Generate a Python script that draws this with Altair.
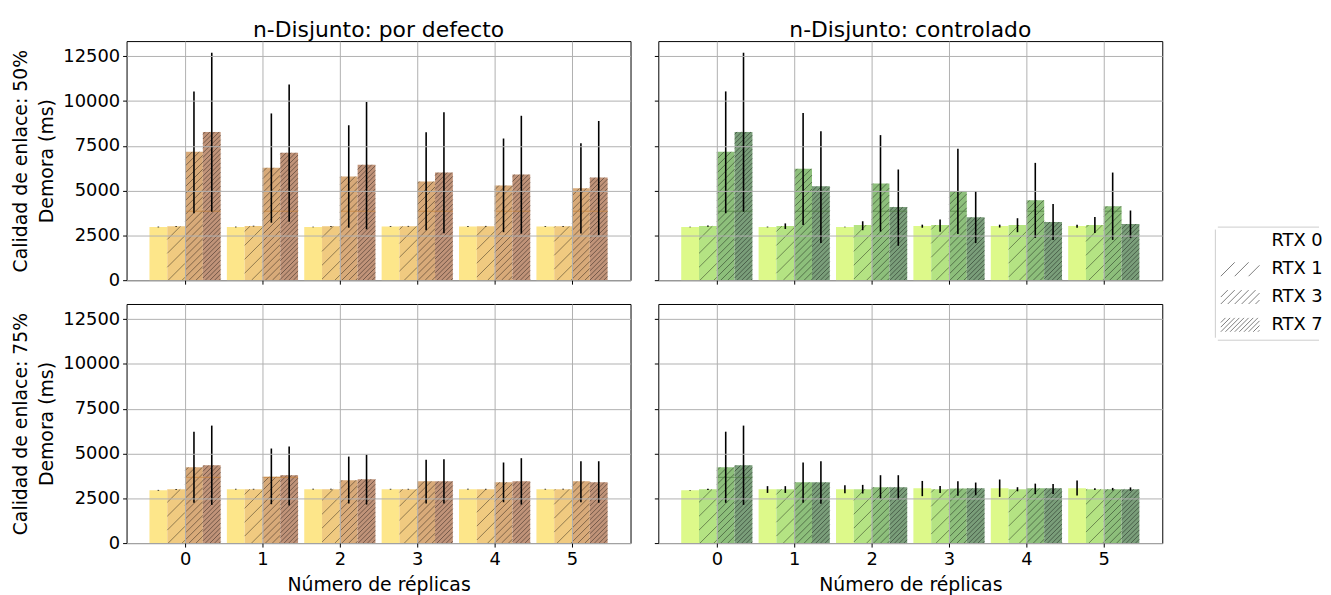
import altair as alt
import numpy as np
import pandas as pd

# ---------------- data ----------------
replicas = [0, 1, 2, 3, 4, 5]
rtx_levels = ["RTX 0", "RTX 1", "RTX 3", "RTX 7"]
y_ticks = [0, 2500, 5000, 7500, 10000, 12500]
col_titles = ["n-Disjunto: por defecto", "n-Disjunto: controlado"]
row_titles = [["Calidad de enlace: 50%", "Demora (ms)"],
              ["Calidad de enlace: 75%", "Demora (ms)"]]
x_title = "Número de réplicas"

# n-Disjunto por defecto, calidad 50%
def50_mean = {
    "RTX 0": [2970, 2970, 2970, 3000, 3000, 3000],
    "RTX 1": [3010, 3020, 3010, 3010, 3010, 3010],
    "RTX 3": [7170, 6280, 5790, 5510, 5290, 5130],
    "RTX 7": [8280, 7120, 6450, 6010, 5900, 5730],
}
def50_lo = {
    "RTX 0": [2950, 2950, 2950, 2980, 2980, 2980],
    "RTX 1": [2990, 3000, 2990, 2990, 2990, 2990],
    "RTX 3": [3740, 3210, 2930, 2790, 2680, 2600],
    "RTX 7": [3820, 3260, 2840, 2620, 2600, 2510],
}
def50_hi = {
    "RTX 0": [2990, 2990, 2990, 3020, 3020, 3020],
    "RTX 1": [3030, 3040, 3030, 3030, 3030, 3030],
    "RTX 3": [10540, 9310, 8650, 8260, 7910, 7650],
    "RTX 7": [12700, 10930, 9950, 9380, 9180, 8890],
}
def50_ghost = [3850, 3850, 3850, 3850, 3850, 3850]

# n-Disjunto controlado, calidad 50%
ctl50_mean = {
    "RTX 0": [2970, 2970, 2970, 3020, 3020, 3020],
    "RTX 1": [3020, 3020, 3080, 3080, 3080, 3080],
    "RTX 3": [7170, 6220, 5400, 4960, 4460, 4130],
    "RTX 7": [8280, 5240, 4080, 3520, 3250, 3140],
}
ctl50_lo = {
    "RTX 0": [2950, 2950, 2950, 2930, 2940, 2930],
    "RTX 1": [2990, 2860, 2790, 2710, 2680, 2630],
    "RTX 3": [3740, 3080, 2710, 2580, 2360, 2250],
    "RTX 7": [3820, 2080, 1920, 2070, 2250, 2360],
}
ctl50_hi = {
    "RTX 0": [2990, 2990, 2990, 3100, 3100, 3100],
    "RTX 1": [3050, 3170, 3290, 3390, 3460, 3530],
    "RTX 3": [10540, 9330, 8100, 7340, 6550, 6010],
    "RTX 7": [12700, 8320, 6180, 4980, 4260, 3890],
}
ctl50_ghost = [3850, 3850, 3850, 3850, 3850, 3850]

# n-Disjunto por defecto, calidad 75%
def75_mean = {
    "RTX 0": [2950, 3010, 3010, 3010, 3010, 3010],
    "RTX 1": [3000, 3010, 3010, 3010, 3010, 3010],
    "RTX 3": [4230, 3710, 3510, 3450, 3400, 3450],
    "RTX 7": [4340, 3790, 3570, 3450, 3450, 3400],
}
def75_lo = {
    "RTX 0": [2930, 2990, 2990, 2990, 2990, 2990],
    "RTX 1": [2980, 2990, 2990, 2990, 2990, 2990],
    "RTX 3": [2250, 2170, 2210, 2210, 2280, 2280],
    "RTX 7": [2130, 2100, 2150, 2210, 2150, 2250],
}
def75_hi = {
    "RTX 0": [2970, 3030, 3030, 3030, 3030, 3030],
    "RTX 1": [3020, 3030, 3030, 3030, 3030, 3030],
    "RTX 3": [6220, 5280, 4830, 4660, 4500, 4570],
    "RTX 7": [6560, 5390, 4940, 4680, 4740, 4570],
}
def75_ghost = [3670, 3670, 3670, 3670, 3670, 3670]

# n-Disjunto controlado, calidad 75%
ctl75_mean = {
    "RTX 0": [2950, 3010, 3010, 3060, 3060, 3060],
    "RTX 1": [3000, 3010, 3010, 3010, 3010, 3010],
    "RTX 3": [4230, 3400, 3120, 3050, 3060, 3010],
    "RTX 7": [4340, 3400, 3120, 3060, 3060, 3010],
}
ctl75_lo = {
    "RTX 0": [2930, 2800, 2780, 2620, 2580, 2660],
    "RTX 1": [2970, 2800, 2770, 2800, 2890, 2960],
    "RTX 3": [2250, 2250, 2470, 2640, 2730, 2940],
    "RTX 7": [2130, 2190, 2430, 2670, 2740, 2920],
}
ctl75_hi = {
    "RTX 0": [2970, 3180, 3230, 3470, 3550, 3490],
    "RTX 1": [3030, 3180, 3250, 3190, 3120, 3060],
    "RTX 3": [6220, 4500, 3790, 3450, 3320, 3080],
    "RTX 7": [6560, 4570, 3790, 3380, 3300, 3110],
}
ctl75_ghost = [3670, 3670, 3670, 3670, 3670, 3670]

# ---------------- styling constants ----------------
W, H = 508, 241
ROW_GAP, COL_GAP = 24, 28
XMIN, XMAX = -0.756, 5.756
YMAX = 13350
BAR_W = 0.23
FONT = "DejaVu Sans"
warm_colors = ["#FDE68A", "#F0CA80", "#D8AA79", "#C09379"]
green_colors = ["#DDF98A", "#B4E383", "#8DBF7B", "#7A9E7A"]
warm_ghost = "#C8823C"
green_ghost = "#4E7D43"
HATCH_SPACING = {"RTX 1": 14.0, "RTX 3": 7.0, "RTX 7": 4.67}


def panel_frame(mean, lo, hi):
    rows = []
    for i, r in enumerate(rtx_levels):
        for j, rep in enumerate(replicas):
            pos = rep + (i - 1.5) * BAR_W
            rows.append(dict(replica=rep, rtx=r, pos=pos,
                             x0=pos - BAR_W / 2, x1=pos + BAR_W / 2,
                             mean=mean[r][j], lo=lo[r][j], hi=hi[r][j]))
    return pd.DataFrame(rows)


def hatch_frame(df):
    sx = W / (XMAX - XMIN)
    sy = H / YMAX
    segs = []
    for row in df.itertuples():
        s = HATCH_SPACING.get(row.rtx)
        if s is None:
            continue
        x0p = (row.x0 - XMIN) * sx
        x1p = (row.x1 - XMIN) * sx
        hp = row.mean * sy
        k0 = int(np.floor((x0p - hp) / s)) - 1
        k1 = int(np.ceil(x1p / s)) + 1
        for k in range(k0, k1 + 1):
            c = k * s
            ylo = max(0.0, x0p - c)
            yhi = min(hp, x1p - c)
            if yhi - ylo > 0.3:
                segs.append(dict(hx0=(ylo + c) / sx + XMIN, hx1=(yhi + c) / sx + XMIN,
                                 hy0=ylo / sy, hy1=yhi / sy))
    return pd.DataFrame(segs)


def ghost_frame(df, ghost):
    g = df[df["rtx"].isin(["RTX 3", "RTX 7"])].copy()
    g["ghost"] = [ghost[rep] for rep in g["replica"]]
    return g[g["ghost"] < g["mean"]]


def legend_path(spacing):
    # hatch patch 39 x 14 px drawn as a symbol whose unit is 7 px
    if spacing is None:
        return "M-1,0L-1,0"
    pw, ph, u = 39.0, 14.0, 7.0
    parts = []
    k0 = int(np.floor(-ph / spacing)) - 1
    k1 = int(np.ceil(pw / spacing)) + 1
    for k in range(k0, k1 + 1):
        c = k * spacing
        ylo = max(0.0, 0 - c)
        yhi = min(ph, pw - c)
        if yhi - ylo > 0.3:
            xa, ya = ylo + c, ylo
            xb, yb = yhi + c, yhi
            parts.append("M%.3f,%.3fL%.3f,%.3f" % (xa / u - 1, 1 - ya / u, xb / u - 1, 1 - yb / u))
    return "".join(parts)


def make_panel(mean, lo, hi, ghost, colors, ghost_color, row, col):
    df = panel_frame(mean, lo, hi)
    hdf = hatch_frame(df)
    gdf = ghost_frame(df, ghost)

    x_axis = alt.Axis(values=replicas, format="d",
                      labels=(row == 1), title=(x_title if row == 1 else None),
                      labelFontSize=18, titleFontSize=19, titleFontWeight="normal",
                      labelPadding=4, titlePadding=7, tickSize=4, tickColor="black",
                      labelColor="black", titleColor="black",
                      grid=True, gridColor="#b0b0b0", gridWidth=1, domain=False, zindex=1)
    y_axis = alt.Axis(values=y_ticks, format="d", labels=(col == 0),
                      title=(row_titles[row] if col == 0 else None),
                      labelFontSize=18, titleFontSize=19, titleFontWeight="normal",
                      titleLineHeight=27, labelPadding=3, titlePadding=6,
                      tickSize=4, tickColor="black", labelColor="black", titleColor="black",
                      grid=True, gridColor="#b0b0b0", gridWidth=1, domain=False, zindex=1)
    xs = alt.Scale(domain=[XMIN, XMAX], nice=False, zero=False)
    ys = alt.Scale(domain=[0, YMAX], nice=False)

    def X(f):
        return alt.X(f, type="quantitative", scale=xs, axis=x_axis)

    def Y(f):
        return alt.Y(f, type="quantitative", scale=ys, axis=y_axis)

    bars = alt.Chart(df).mark_rect().encode(
        x=X("x0"), x2="x1", y=Y("mean"), y2=alt.datum(0),
        color=alt.Color("rtx:N", scale=alt.Scale(domain=rtx_levels, range=colors), legend=None),
    )
    hatch = alt.Chart(hdf).mark_rule(color="black", opacity=0.45, strokeWidth=0.9).encode(
        x=X("hx0"), x2="hx1", y=Y("hy0"), y2="hy1"
    )
    ghosts = alt.Chart(gdf).mark_rule(color=ghost_color, opacity=0.7, strokeWidth=1).encode(
        x=X("x0"), x2="x1", y=Y("ghost")
    )
    errs = alt.Chart(df).mark_rule(color="black", strokeWidth=1.6).encode(
        x=X("pos"), y=Y("lo"), y2="hi"
    )
    ch = alt.layer(bars, hatch, ghosts, errs).properties(width=W, height=H)
    if row == 0:
        ch = ch.properties(title=alt.TitleParams(col_titles[col], fontSize=22, fontWeight="normal",
                                                 anchor="middle", offset=-1, color="black", font=FONT))
    return ch


tl = make_panel(def50_mean, def50_lo, def50_hi, def50_ghost, warm_colors, warm_ghost, 0, 0)
tr = make_panel(ctl50_mean, ctl50_lo, ctl50_hi, ctl50_ghost, green_colors, green_ghost, 0, 1)
bl = make_panel(def75_mean, def75_lo, def75_hi, def75_ghost, warm_colors, warm_ghost, 1, 0)
br = make_panel(ctl75_mean, ctl75_lo, ctl75_hi, ctl75_ghost, green_colors, green_ghost, 1, 1)

# ---------------- custom legend (hatched patches), third grid column ----------------
LW = 130           # legend cell width (reaches the right edge of the page)
STEP = 28          # row pitch of the legend entries
ROWS_TOP = 188     # first legend row, from the top of the upper row of panels
BOX_L = 25         # left border of the legend frame inside the cell
PATCH_C = 38       # centre of the hatch symbol
TEXT_X = 82        # start of the entry labels
legend_df = pd.DataFrame({"rtx": rtx_levels})
n_lev = len(rtx_levels)
box_top = ROWS_TOP - 1
box_bot = ROWS_TOP + STEP * n_lev + 2
ly = alt.Y("rtx:N", scale=alt.Scale(domain=rtx_levels, paddingInner=0, paddingOuter=0,
                                    range=[ROWS_TOP, ROWS_TOP + STEP * n_lev]),
           axis=None)
paths = [legend_path(HATCH_SPACING.get(r)) for r in rtx_levels]

one = legend_df.iloc[:1]
box_fill = alt.Chart(one).mark_rect(fill="white", strokeWidth=0).encode(
    x=alt.value(BOX_L), x2=alt.value(LW), y=alt.value(box_top), y2=alt.value(box_bot))
box_top_line = alt.Chart(one).mark_rule(color="#cccccc", strokeWidth=1).encode(
    x=alt.value(BOX_L + 3), x2=alt.value(LW), y=alt.value(box_top + 0.5))
box_bot_line = alt.Chart(one).mark_rule(color="#cccccc", strokeWidth=1).encode(
    x=alt.value(BOX_L + 3), x2=alt.value(LW), y=alt.value(box_bot - 0.5))
box_left_line = alt.Chart(one).mark_rule(color="#cccccc", strokeWidth=1).encode(
    x=alt.value(BOX_L + 0.5), y=alt.value(box_top + 3), y2=alt.value(box_bot - 3))
patches = alt.Chart(legend_df).mark_point(
    filled=False, stroke="#444444", strokeWidth=0.7, size=196, opacity=1
).encode(
    x=alt.value(PATCH_C), y=ly,
    shape=alt.Shape("rtx:N", scale=alt.Scale(domain=rtx_levels, range=paths), legend=None),
)
labels = alt.Chart(legend_df).mark_text(
    align="left", baseline="middle", fontSize=18, font=FONT, color="black"
).encode(x=alt.value(TEXT_X), y=ly, text="rtx:N")
legend_chart = alt.layer(box_fill, box_top_line, box_bot_line, box_left_line, patches, labels).properties(
    width=LW, height=H, view=alt.ViewBackground(stroke=None)
)

chart = alt.concat(tl, tr, legend_chart, bl, br, columns=3,
                   spacing={"row": ROW_GAP, "column": COL_GAP},
                   bounds="flush").resolve_scale(
    color="independent", shape="independent", x="independent", y="independent"
).properties(
    padding={"left": 2.5, "top": 8, "right": 0, "bottom": 0}
).configure(font=FONT).configure_view(stroke="black", strokeWidth=1)

chart.save("out.html", embed_options={"renderer": "svg", "actions": False})
